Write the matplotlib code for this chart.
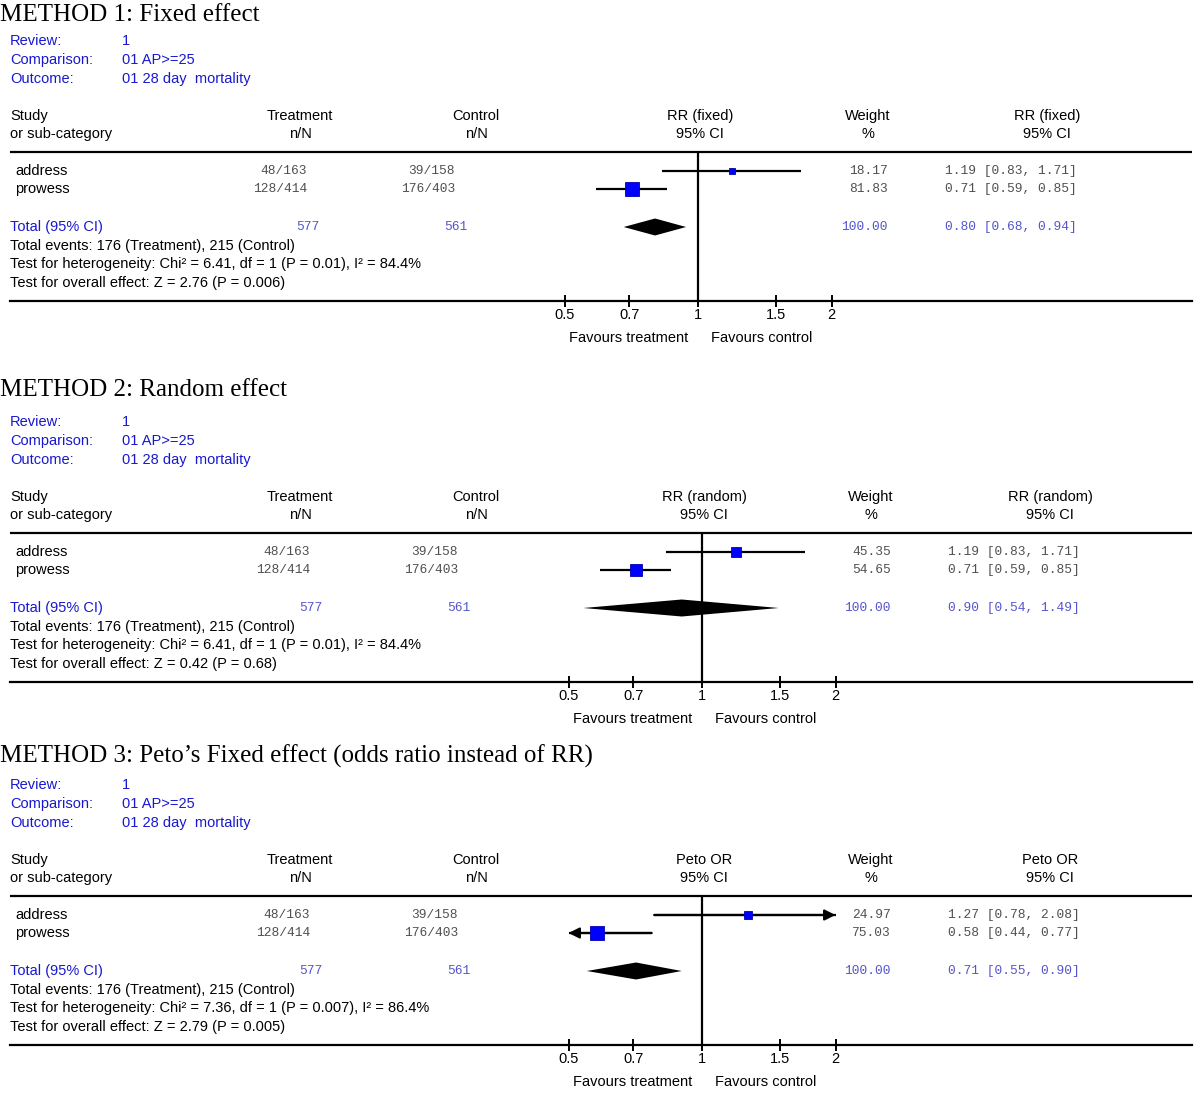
import matplotlib
matplotlib.use("Agg")
import matplotlib.pyplot as plt
import numpy as np

# ---------------- data ----------------
studies = ["address", "prowess"]
treat_events = [48, 128]
treat_total = [163, 414]
ctrl_events = [39, 176]
ctrl_total = [158, 403]

titles = ["METHOD 1: Fixed effect",
          "METHOD 2: Random effect",
          "METHOD 3: Peto\u2019s Fixed effect (odds ratio instead of RR)"]
measure_labels = ["RR (fixed)", "RR (random)", "Peto OR"]

est_m1 = [1.19, 0.71]; lo_m1 = [0.83, 0.59]; hi_m1 = [1.71, 0.85]; w_m1 = [18.17, 81.83]
est_m2 = [1.19, 0.71]; lo_m2 = [0.83, 0.59]; hi_m2 = [1.71, 0.85]; w_m2 = [45.35, 54.65]
est_m3 = [1.27, 0.58]; lo_m3 = [0.78, 0.44]; hi_m3 = [2.08, 0.77]; w_m3 = [24.97, 75.03]

total_est = [0.80, 0.90, 0.71]
total_lo = [0.68, 0.54, 0.55]
total_hi = [0.94, 1.49, 0.90]

heterogeneity = ["Chi\u00b2 = 6.41, df = 1 (P = 0.01), I\u00b2 = 84.4%",
                 "Chi\u00b2 = 6.41, df = 1 (P = 0.01), I\u00b2 = 84.4%",
                 "Chi\u00b2 = 7.36, df = 1 (P = 0.007), I\u00b2 = 86.4%"]
overall = ["Z = 2.76 (P = 0.006)", "Z = 0.42 (P = 0.68)", "Z = 2.79 (P = 0.005)"]

tick_vals = [0.5, 0.7, 1, 1.5, 2]
tick_labels = ["0.5", "0.7", "1", "1.5", "2"]

methods = [
    (est_m1, lo_m1, hi_m1, w_m1),
    (est_m2, lo_m2, hi_m2, w_m2),
    (est_m3, lo_m3, hi_m3, w_m3),
]

# ---------------- layout / style ----------------
W, H = 1200, 1094
DPI = 100
fig = plt.figure(figsize=(W / DPI, H / DPI), dpi=DPI)
bg = fig.add_axes([0, 0, 1, 1])
bg.set_xlim(0, W)
bg.set_ylim(H, 0)
bg.axis("off")

SANS = "Liberation Sans"
SERIF = "Liberation Serif"
MONO = "Liberation Mono"
BLUE = "#1818d0"
LBLUE = "#5555cc"
GRAY = "#505050"
FS = 10.5
MFS = 9.3

panel_offsets = [0, 381, 744]
title_y = [15, 390, 756]
x_one = [698, 702, 702]      # pixel x of value 1
dx_cols = [0, 3, 3]
PX_PER_LOG2 = 133.5
X_LEFT, X_RIGHT = 10, 1192

for p in range(3):
    o = panel_offsets[p]
    dx = dx_cols[p]
    est, lo, hi, w = methods[p]

    bg.text(0, title_y[p], titles[p], family=SERIF, fontsize=18, va="center", ha="left", color="black")

    for i, (lab, val) in enumerate([("Review:", "1"), ("Comparison:", "01 AP>=25"),
                                     ("Outcome:", "01 28 day  mortality")]):
        y = 41 + o + 19 * i
        bg.text(10, y, lab, family=SANS, fontsize=FS, color=BLUE, va="center")
        bg.text(122, y, val, family=SANS, fontsize=FS, color=BLUE, va="center")

    # headers
    hy1, hy2 = 116 + o, 134 + o
    bg.text(10, hy1, "Study", family=SANS, fontsize=FS, va="center")
    bg.text(10, hy2, "or sub-category", family=SANS, fontsize=FS, va="center")
    for cx, l1, l2 in [(300, "Treatment", "n/N"), (476, "Control", "n/N"),
                       (x_one[p] + 2, measure_labels[p], "95% CI"),
                       (868 + dx, "Weight", "%"), (1047 + dx, measure_labels[p], "95% CI")]:
        bg.text(cx, hy1, l1, family=SANS, fontsize=FS, va="center", ha="center")
        bg.text(cx, hy2, l2, family=SANS, fontsize=FS, va="center", ha="center")

    rule_y = 152 + o
    axis_y = 301 + o
    bg.plot([X_LEFT, X_RIGHT], [rule_y, rule_y], color="black", lw=1.6, solid_capstyle="butt")

    # rows
    row_y = [171 + o, 189 + o]
    for i in range(len(studies)):
        y = row_y[i]
        bg.text(15, y, studies[i], family=SANS, fontsize=FS, va="center")
        bg.text(307 + dx, y, f"{treat_events[i]}/{treat_total[i]}", family=MONO, fontsize=MFS,
                color=GRAY, va="center", ha="right")
        bg.text(455 + dx, y, f"{ctrl_events[i]}/{ctrl_total[i]}", family=MONO, fontsize=MFS,
                color=GRAY, va="center", ha="right")
        bg.text(888 + dx, y, f"{w[i]:.2f}", family=MONO, fontsize=MFS, color=GRAY, va="center", ha="right")
        bg.text(945 + dx, y, f"{est[i]:.2f} [{lo[i]:.2f}, {hi[i]:.2f}]", family=MONO, fontsize=MFS,
                color=GRAY, va="center", ha="left")

    ty = 227 + o
    bg.text(10, ty, "Total (95% CI)", family=SANS, fontsize=FS, color=BLUE, va="center")
    bg.text(319 + dx, ty, f"{sum(treat_total)}", family=MONO, fontsize=MFS, color=LBLUE, va="center", ha="right")
    bg.text(467 + dx, ty, f"{sum(ctrl_total)}", family=MONO, fontsize=MFS, color=LBLUE, va="center", ha="right")
    bg.text(888 + dx, ty, f"{sum(w):.2f}", family=MONO, fontsize=MFS, color=LBLUE, va="center", ha="right")
    bg.text(945 + dx, ty, f"{total_est[p]:.2f} [{total_lo[p]:.2f}, {total_hi[p]:.2f}]", family=MONO,
            fontsize=MFS, color=LBLUE, va="center", ha="left")

    bg.text(10, 246 + o, f"Total events: {sum(treat_events)} (Treatment), {sum(ctrl_events)} (Control)",
            family=SANS, fontsize=FS, va="center")
    bg.text(10, 264 + o, "Test for heterogeneity: " + heterogeneity[p], family=SANS, fontsize=FS, va="center")
    bg.text(10, 283 + o, "Test for overall effect: " + overall[p], family=SANS, fontsize=FS, va="center")

    bg.text(x_one[p] - 10, 338 + o, "Favours treatment", family=SANS, fontsize=FS, va="center", ha="right")
    bg.text(x_one[p] + 13, 338 + o, "Favours control", family=SANS, fontsize=FS, va="center", ha="left")

    # forest axes (log scale), y in pixel units
    ax = fig.add_axes([X_LEFT / W, 1 - axis_y / H, (X_RIGHT - X_LEFT) / W, (axis_y - rule_y) / H])
    ax.patch.set_alpha(0)
    ax.set_xscale("log")
    ax.set_xlim(2 ** ((X_LEFT - x_one[p]) / PX_PER_LOG2), 2 ** ((X_RIGHT - x_one[p]) / PX_PER_LOG2))
    ax.set_ylim(axis_y, rule_y)
    for s in ["top", "left", "right"]:
        ax.spines[s].set_visible(False)
    ax.spines["bottom"].set_linewidth(1.6)
    ax.set_yticks([])
    ax.set_xticks(tick_vals)
    ax.set_xticklabels(tick_labels, family=SANS, fontsize=FS)
    ax.xaxis.set_minor_locator(matplotlib.ticker.NullLocator())
    ax.tick_params(axis="x", direction="inout", length=8, width=1.4, pad=1)
    ax.axvline(1, color="black", lw=1.6)

    xmin_plot, xmax_plot = 0.5, 2.0
    for i in range(len(studies)):
        y = row_y[i]
        l, h = lo[i], hi[i]
        lc, hc = max(l, xmin_plot), min(h, xmax_plot)
        ax.plot([lc, hc], [y, y], color="black", lw=1.6, solid_capstyle="butt", zorder=3)
        if h > xmax_plot:
            ax.annotate("", xy=(xmax_plot, y), xytext=(lc, y),
                        arrowprops=dict(arrowstyle="-|>", color="black", lw=1.6, mutation_scale=16,
                                        shrinkA=0, shrinkB=0), zorder=3)
        if l < xmin_plot:
            ax.annotate("", xy=(xmin_plot, y), xytext=(hc, y),
                        arrowprops=dict(arrowstyle="-|>", color="black", lw=1.6, mutation_scale=16,
                                        shrinkA=0, shrinkB=0), zorder=3)
        side_px = 1.55 * np.sqrt(w[i])
        ax.plot([est[i]], [y], marker="s", markersize=side_px * 72 / DPI, color="#0000ff",
                markeredgecolor="#0000b0", markeredgewidth=0.6, zorder=4, linestyle="none")

    dh = 8.5
    ax.fill([total_lo[p], total_est[p], total_hi[p], total_est[p]],
            [ty, ty - dh, ty, ty + dh], color="black", zorder=4, lw=0)

fig.savefig("out.png", dpi=DPI)
